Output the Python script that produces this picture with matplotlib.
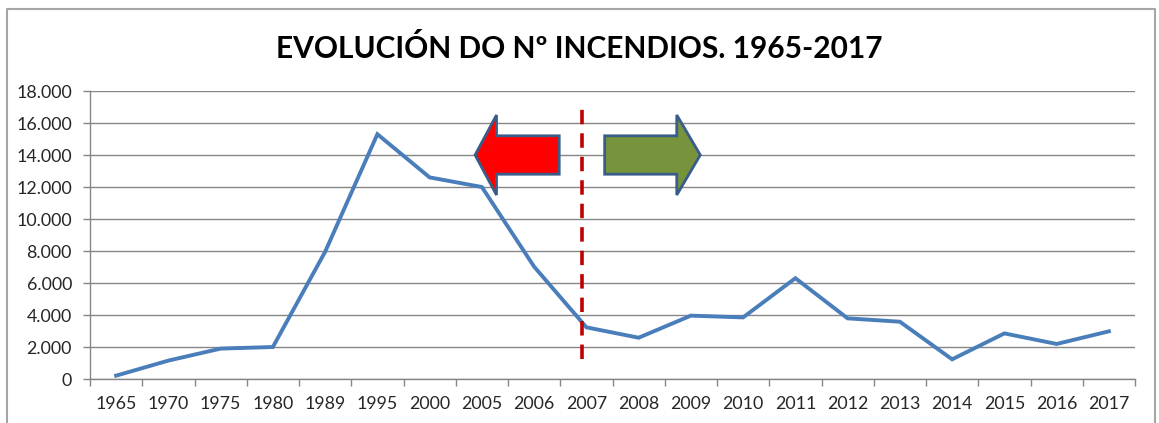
import matplotlib.pyplot as plt
from matplotlib.patches import Polygon
from matplotlib.ticker import FuncFormatter, FixedLocator
from matplotlib.lines import Line2D

plt.rcParams['font.family'] = ['Lato', 'DejaVu Sans']

years = ["1965", "1970", "1975", "1980", "1989", "1995", "2000", "2005", "2006", "2007",
         "2008", "2009", "2010", "2011", "2012", "2013", "2014", "2015", "2016", "2017"]
fires = [210, 1150, 1900, 2000, 7950, 15300, 12600, 12000, 7020, 3230,
         2580, 3960, 3850, 6300, 3790, 3580, 1230, 2850, 2190, 2980]

# arrow shapes in data units: (tail x, head base x, tip x), body/head half heights
red_arrow = (8.48, 7.28, 6.87)
green_arrow = (9.35, 10.73, 11.18)
arrow_mid, body_half, head_half = 14000, 1200, 2500
split_x = 8.92

fig = plt.figure(figsize=(11.59, 4.23), dpi=100)
ax = fig.add_axes([90 / 1159, 44 / 423, 1045 / 1159, 288 / 423])

x = list(range(len(years)))
ax.plot(x, fires, color="#4A7EBB", linewidth=2.8, solid_joinstyle="miter", zorder=3)

ax.set_xlim(-0.5, len(years) - 0.5)
ax.set_ylim(0, 18000)
ax.set_yticks(range(0, 18001, 2000))
ax.yaxis.set_major_formatter(FuncFormatter(lambda v, p: f"{int(v):,}".replace(",", ".")))
ax.set_xticks(x)
ax.set_xticklabels(years)
ax.xaxis.set_minor_locator(FixedLocator([i - 0.5 for i in range(len(years) + 1)]))
ax.tick_params(axis="x", which="major", length=0, pad=12, labelsize=12.8, colors="#262626")
ax.tick_params(axis="x", which="minor", length=5, width=1, color="#868686")
ax.tick_params(axis="y", length=5, width=1, color="#868686", labelsize=12.8,
               labelcolor="#262626", pad=8)
ax.grid(axis="y", color="#868686", linewidth=1)
ax.set_axisbelow(True)
for side in ("top", "right"):
    ax.spines[side].set_visible(False)
for side in ("left", "bottom"):
    ax.spines[side].set_color("#868686")
    ax.spines[side].set_linewidth(1)

ax.vlines(split_x, 1250, 16900, colors="#C00000", linestyles=(0, (4, 2.5)), linewidth=2.6, zorder=4)


def arrow(tail, base, tip, fc):
    pts = [(tail, arrow_mid - body_half), (tail, arrow_mid + body_half),
           (base, arrow_mid + body_half), (base, arrow_mid + head_half),
           (tip, arrow_mid), (base, arrow_mid - head_half),
           (base, arrow_mid - body_half)]
    ax.add_patch(Polygon(pts, closed=True, facecolor=fc, edgecolor="#385D8A",
                         linewidth=2, zorder=5))


arrow(*red_arrow, "#FF0000")
arrow(*green_arrow, "#77933C")

fig.text(0.5, (423 - 48) / 423, "EVOLUCIÓN DO Nº INCENDIOS. 1965-2017", ha="center", va="center",
         fontsize=21.5, fontweight="bold", color="black")

# outer chart frame
bx0, bx1, by1 = 7 / 1159, 1155 / 1159, (423 - 9) / 423
frame = Line2D([bx0, bx0, bx1, bx1], [-0.01, by1, by1, -0.01], transform=fig.transFigure,
               color="#A6A6A6", linewidth=1.5)
fig.add_artist(frame)

fig.savefig("out.png", dpi=100)
